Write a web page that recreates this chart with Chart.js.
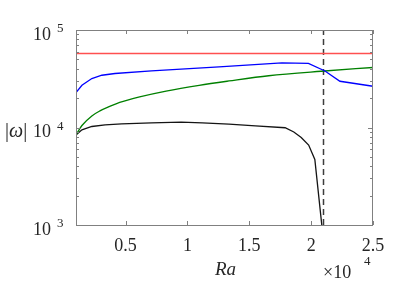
<!DOCTYPE html>
<html>
<head>
<meta charset="utf-8">
<script src="https://cdn.jsdelivr.net/npm/chart.js@4"></script>
<style>
  body { margin: 0; background: #fff; }
  canvas { display: block; }
</style>
</head>
<body>
<canvas id="myChart" width="399" height="300"></canvas>
<script>
// values (Ra, |omega|)
const redRa = [1000, 25000];
const redW = [57500, 57500];

const blueRa = [1000, 1480, 2280, 3090, 4150, 7100, 12560, 17640, 19780, 21120, 22330, 25000];
const blueW = [22800, 27100, 31770, 34350, 35810, 38000, 41870, 46000, 45400, 38000, 29800, 26500];

const greenRa = [1000, 1480, 2280, 2930, 3730, 4530, 6140, 8280, 10950, 13360, 16570, 20820, 25000];
const greenW = [8400, 10490, 13140, 14790, 16460, 18100, 20630, 23660, 27100, 30010, 33960, 37760, 41250];

const blackRa = [1000, 1480, 2280, 3350, 4690, 7100, 9500, 11200, 13360, 15500, 17900, 18600, 19200, 19800, 20300, 20900];
const blackW = [8400, 9470, 10240, 10660, 10910, 11180, 11350, 11170, 10810, 10400, 9940, 9000, 7900, 6600, 4700, 900];

const critRa = [21000, 21000];
const critW = [1000, 100000];

const xTicks = [5000, 10000, 15000, 20000, 25000];
const yTicks = [1000, 10000, 100000];

const pts = (xs, ys) => xs.map((x, i) => ({x: x, y: ys[i]}));

const data = {
  datasets: [{
    label: 'red',
    data: pts(redRa, redW),
    borderColor: 'rgb(255, 80, 80)',
    borderWidth: 1.6
  }, {
    label: 'blue',
    data: pts(blueRa, blueW),
    borderColor: 'rgb(0, 0, 255)',
    borderWidth: 1.3
  }, {
    label: 'green',
    data: pts(greenRa, greenW),
    borderColor: 'rgb(0, 128, 0)',
    borderWidth: 1.3,
    cubicInterpolationMode: 'monotone'
  }, {
    label: 'black',
    data: pts(blackRa, blackW),
    borderColor: 'rgb(20, 20, 20)',
    borderWidth: 1.3
  }, {
    label: 'crit',
    data: pts(critRa, critW),
    borderColor: 'rgb(60, 60, 60)',
    borderWidth: 1.5,
    borderDash: [6, 4]
  }]
};

const FONT = '"Liberation Serif", "Times New Roman", serif';
const TXT = '#262626';

// MATLAB-like box, inward ticks and the extra labels
const decor = {
  id: 'decor',
  afterDraw(chart) {
    const ctx = chart.ctx;
    const ca = chart.chartArea;
    const xs = chart.scales.x, ys = chart.scales.y;
    ctx.save();
    ctx.strokeStyle = '#808080';
    ctx.lineWidth = 1;
    ctx.strokeRect(Math.round(ca.left) + 0.5, Math.round(ca.top) + 0.5,
      Math.round(ca.right - ca.left) - 1, Math.round(ca.bottom - ca.top));

    ctx.beginPath();
    xTicks.forEach(v => {
      const px = Math.round(xs.getPixelForValue(v)) + 0.5;
      ctx.moveTo(px, ca.bottom); ctx.lineTo(px, ca.bottom - 4);
      ctx.moveTo(px, ca.top); ctx.lineTo(px, ca.top + 4);
    });
    for (let d = 1000; d < 100000; d *= 10) {
      for (let k = 1; k < 10; k++) {
        const py = Math.round(ys.getPixelForValue(d * k)) + 0.5;
        const len = k === 1 ? 5 : 3;
        ctx.moveTo(ca.left, py); ctx.lineTo(ca.left + len, py);
        ctx.moveTo(ca.right, py); ctx.lineTo(ca.right - len, py);
      }
    }
    ctx.stroke();

    ctx.fillStyle = TXT;
    ctx.textAlign = 'left';
    ctx.textBaseline = 'alphabetic';
    yTicks.forEach(v => {
      const py = ys.getPixelForValue(v);
      ctx.font = '18px ' + FONT;
      ctx.fillText('10', 33, py + 9.5);
      ctx.font = '13px ' + FONT;
      ctx.fillText(String(Math.round(Math.log10(v))), 57, py + 2);
    });

    // y label |ω|
    ctx.font = '20px ' + FONT;
    let x = 5;
    ctx.fillText('|', x, 137);
    x += ctx.measureText('|').width;
    ctx.font = 'italic 20px ' + FONT;
    ctx.fillText('ω', x, 137);
    x += ctx.measureText('ω').width;
    ctx.font = '20px ' + FONT;
    ctx.fillText('|', x, 137);

    // x label and exponent
    ctx.textAlign = 'center';
    ctx.font = 'italic 19px ' + FONT;
    ctx.fillText('Ra', (ca.left + ca.right) / 2 + 1, 275);
    ctx.textAlign = 'left';
    ctx.font = '18px ' + FONT;
    ctx.fillText('×10', 323, 278);
    ctx.font = '13px ' + FONT;
    ctx.fillText('4', 364, 265);
    ctx.restore();
  }
};

const config = {
  type: 'line',
  data: data,
  options: {
    responsive: false,
    devicePixelRatio: 1,
    animation: false,
    layout: { padding: { top: 30, right: 26, left: 0, bottom: 0 } },
    elements: { point: { radius: 0 }, line: { tension: 0 } },
    plugins: { legend: { display: false }, tooltip: { enabled: false } },
    scales: {
      x: {
        type: 'linear',
        min: 1000,
        max: 25000,
        afterBuildTicks: s => { s.ticks = xTicks.map(v => ({value: v})); },
        afterFit: s => { s.height = 75; },
        grid: { display: false, drawTicks: false },
        border: { display: false },
        ticks: {
          padding: 10,
          color: TXT,
          font: { family: FONT, size: 18 },
          maxRotation: 0,
          callback: v => String(v / 10000)
        }
      },
      y: {
        type: 'logarithmic',
        min: 1000,
        max: 100000,
        afterBuildTicks: s => { s.ticks = yTicks.map(v => ({value: v})); },
        afterFit: s => { s.width = 76; },
        grid: { display: false, drawTicks: false },
        border: { display: false },
        ticks: { display: false }
      }
    }
  },
  plugins: [decor]
};

const myChart = new Chart(document.getElementById('myChart'), config);
</script>
</body>
</html>
